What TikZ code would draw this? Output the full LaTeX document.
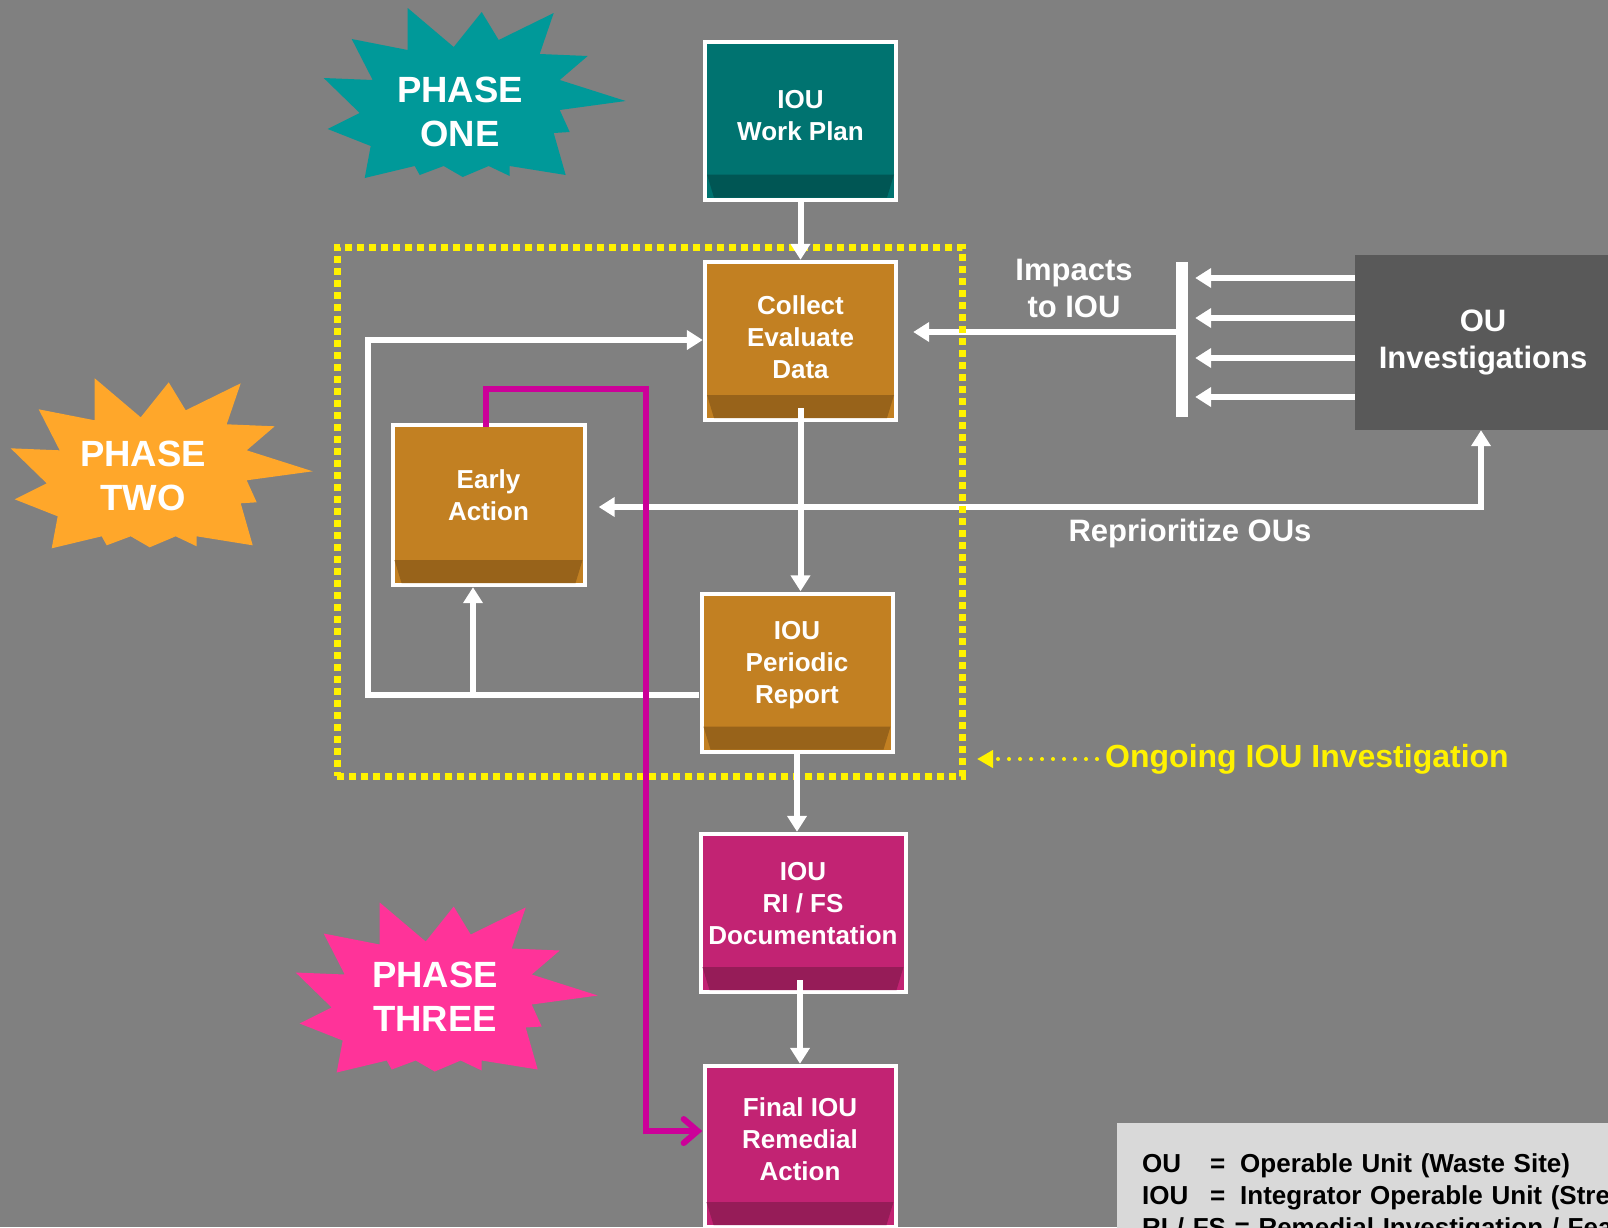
\documentclass[tikz,border=0pt]{standalone}
\usepackage{fontspec}
\setmainfont{Liberation Sans}
\usetikzlibrary{arrows.meta}
\definecolor{bgray}{RGB}{128,128,128}
\definecolor{planface}{RGB}{0,115,112}
\definecolor{planshade}{RGB}{0,86,84}
\definecolor{workface}{RGB}{194,128,34}
\definecolor{workshade}{RGB}{152,99,26}
\definecolor{docface}{RGB}{194,35,115}
\definecolor{docshade}{RGB}{150,28,88}
\definecolor{ougray}{RGB}{89,89,89}
\definecolor{burstone}{RGB}{0,153,153}
\definecolor{bursttwo}{RGB}{255,167,42}
\definecolor{burstthree}{RGB}{255,51,153}
\definecolor{reworkpink}{RGB}{204,0,153}
\definecolor{legendgray}{RGB}{217,217,217}
\newcommand{\boxfont}{\fontsize{26}{32}\selectfont\bfseries}
\newcommand{\burstfont}{\fontsize{36.5}{44}\selectfont\bfseries}
\newcommand{\notefont}{\fontsize{31}{37}\selectfont\bfseries}
\tikzset{
  stage/.style 2 args={fill=white, minimum width=195pt, minimum height=162pt,
    inner sep=0pt, align=center, text=white, font=\boxfont, text depth=20pt,
    path picture={
      \fill[#1] ([shift={(4pt,-4pt)}]path picture bounding box.north west)
        rectangle ([shift={(-4pt,4pt)}]path picture bounding box.south east);
      \fill[#2] ([shift={(4pt,27pt)}]path picture bounding box.south west)
        -- ([shift={(-4pt,27pt)}]path picture bounding box.south east)
        -- ([shift={(-11pt,4pt)}]path picture bounding box.south east)
        -- ([shift={(11pt,4pt)}]path picture bounding box.south west) -- cycle;
    }},
  pics/burst/.style={code={
    \fill[#1] (-67,-85) -- (-21,-46) -- (7,-81) -- (24,-53) -- (79,-80) -- (65,-39)
      -- (113,-37) -- (85,-13) -- (151,8) -- (85,17) -- (95,39) -- (79,40) -- (91,82)
      -- (35,73) -- (35,83) -- (14,73) -- (-12,84) -- (-31,73) -- (-55,82) -- (-60,73)
      -- (-110,85) -- (-104,53) -- (-147,36) -- (-115,20) -- (-151,-15) -- (-102,-13)
      -- (-123,-54) -- (-67,-43) -- cycle;
  }},
}

\begin{document}
\begin{tikzpicture}[x=1pt, y=-1pt, >={Triangle[width=19pt,length=16pt]},
    flow/.style={draw=white, line width=6pt, ->},
    backflow/.style={draw=reworkpink, line width=6pt, -{Straight Barb[length=14pt,width=24pt,line cap=round]}},
    burstlabel/.style={text=white, font=\burstfont, align=center, inner sep=0pt}]
  \path[use as bounding box, fill=bgray] (0,0) rectangle (1608,1227);
  \clip (0,0) rectangle (1608,1227);

  % phases
  \pic at (474.7,93) {burst=burstone};
  \pic at (161.7,463.3) {burst=bursttwo};
  \pic at (446.7,987.5) {burst=burstthree};
  \node[burstlabel] (phaseone) at (460,112) {PHASE\\ONE};
  \node[burstlabel] (phasetwo) at (143,476) {PHASE\\TWO};
  \node[burstlabel] (phasethree) at (435,997) {PHASE\\THREE};

  \node[stage={planface}{planshade}, text depth=10pt] (plan) at (800.5,120.5) {IOU\\Work Plan};
  \node[stage={workface}{workshade}, text depth=8pt] (collect) at (800.5,341) {Collect\\Evaluate\\Data};
  \node[stage={workface}{workshade}, minimum width=196pt, minimum height=164pt] (early) at (488.5,505) {Early\\Action};
  \node[stage={workface}{workshade}] (report) at (797,672.5) {IOU\\Periodic\\Report};
  \node[stage={docface}{docshade}, minimum width=209pt] (rifs) at (803,913) {IOU\\RI / FS\\Documentation};
  \node[stage={docface}{docshade}, minimum height=165pt, text depth=14pt] (final) at (800,1146.5) {Final IOU\\Remedial\\Action};

  \node[fill=ougray, minimum width=256pt, minimum height=175pt, text=white, font=\notefont, align=center] (ou) at (1483,342.5) {OU\\Investigations};
  \node[fill=white, minimum width=12pt, minimum height=155pt, inner sep=0pt] (bar) at (1182,339.5) {};
  \node[text=white, font=\notefont, align=center] (impacts) at (1074,288) {Impacts\\to IOU};
  \node[text=white, font=\notefont] (reprio) at (1190,533) {Reprioritize OUs};
  \node[anchor=west, text=yellow, font=\fontsize{32}{38}\selectfont\bfseries, inner sep=0pt] (ongoing) at (1105,759) {Ongoing IOU Investigation};

  \node[fill=legendgray, anchor=north west, text width=540pt, inner xsep=25pt, inner ysep=30pt, align=left,
    font=\fontsize{26}{32}\selectfont\bfseries] (legend) at (1117,1123)
    {\makebox[68pt][l]{OU}\makebox[30pt][l]{=}Operable Unit (Waste Site)\\
     \makebox[68pt][l]{IOU}\makebox[30pt][l]{=}Integrator Operable Unit (Stream)\\
     RI / FS = Remedial Investigation / Feasibility Study};

  % feedback inside the investigation
  \coordinate (loopsw) at (368,695);
  \coordinate (loopnw) at (368,340);
  \coordinate (branch) at (473,695);
  \draw[flow] (report.west |- loopsw) -- (loopsw) -- (loopnw) -- (collect.west |- loopnw);
  \draw[flow] (branch) -- (branch |- early.south);
  \coordinate (repcorner) at (1481,507);
  \draw[flow, <->, shorten <=12pt] (early.east |- repcorner) -- (repcorner) -- (ou.south -| repcorner);
  \foreach \y in {278,318,358,397} {
    \coordinate (tap) at (0,\y);
    \draw[flow, shorten >=7pt] (ou.west |- tap) -- (bar.east |- tap);
  }
  \coordinate (impact) at (0,332);
  \draw[flow, shorten >=15pt] (bar.west |- impact) -- (collect.east |- impact);

  \node[draw=yellow, line width=7pt, dash pattern=on 7pt off 5pt, minimum width=625pt, minimum height=529pt,
    inner sep=0pt, outer sep=0pt] (zone) at (649.5,511.5) {};

  \draw[flow] (plan.south) -- (collect.north);
  \draw[flow, shorten <=-14pt] (collect.south) -- (collect.south |- report.north);
  \draw[flow] (report.south) -- (report.south |- rifs.north);
  \draw[flow, shorten <=-14pt] (final.north |- rifs.south) -- (final.north);

  \coordinate (mleft) at (486,389);
  \coordinate (mright) at (646,389);
  \coordinate (mend) at (0,1131);
  \draw[backflow, shorten <=-4pt] (early.north -| mleft) -- (mleft) -- (mright) -- (mright |- mend) -- (final.west |- mend);

  \draw[draw=yellow, line width=4pt, line cap=round, dash pattern=on 0pt off 11pt, -{Triangle[width=17pt,length=16pt]},
    shorten <=8pt, shorten >=15pt] (ongoing.west) -- (ongoing.west -| zone.east);
\end{tikzpicture}
\end{document}
